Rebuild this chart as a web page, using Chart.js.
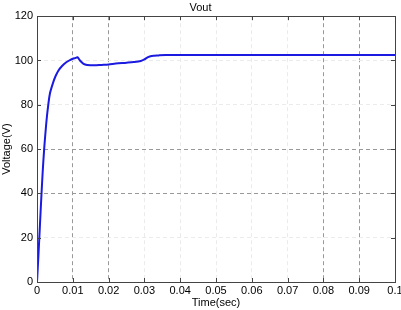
<!DOCTYPE html>
<html>
<head>
<meta charset="utf-8">
<script src="https://cdn.jsdelivr.net/npm/chart.js@4"></script>
<style>
  html, body { margin: 0; padding: 0; background: #fff; }
  #wrap { width: 401px; height: 310px; }
</style>
</head>
<body>
<div id="wrap"><canvas id="c" width="401" height="310"></canvas></div>
<script>
// time (s) and output voltage (V)
const times = [0, 0.0004, 0.0008, 0.0012, 0.0016, 0.002, 0.0025, 0.003, 0.0036, 0.0045,
  0.0052, 0.006, 0.007, 0.008, 0.009, 0.01, 0.0108, 0.0113, 0.012, 0.013, 0.014, 0.016,
  0.018, 0.02, 0.022, 0.025, 0.027, 0.029, 0.030, 0.031, 0.032, 0.034, 0.036, 0.04,
  0.05, 0.06, 0.07, 0.08, 0.09, 0.1];
const volts = [0, 12, 25, 38, 50, 60, 70, 78, 85, 90,
  93, 95.5, 97.5, 99, 100, 100.8, 101.2, 101.5, 100, 98.5, 98, 97.8,
  98, 98.2, 98.6, 99, 99.3, 99.8, 100.5, 101.5, 102, 102.3, 102.5, 102.5,
  102.5, 102.5, 102.5, 102.5, 102.5, 102.5];
const xTicks = [0, 0.01, 0.02, 0.03, 0.04, 0.05, 0.06, 0.07, 0.08, 0.09, 0.1];
const yTicks = [0, 20, 40, 60, 80, 100, 120];
const darkX = [0.01, 0.02, 0.08, 0.09];
const darkY = [40, 60];

const font = { family: 'Liberation Sans, Arial, sans-serif', size: 11, weight: 'normal' };

// frame + inward ticks on all four sides, like MATLAB axes
const framePlugin = {
  id: 'frame',
  afterDatasetsDraw(chart) {
    const { ctx, chartArea: a, scales } = chart;
    ctx.save();
    ctx.strokeStyle = '#444';
    ctx.lineWidth = 1;
    ctx.beginPath();
    xTicks.forEach(v => {
      const x = Math.round(scales.x.getPixelForValue(v)) + 0.5;
      ctx.moveTo(x, a.bottom); ctx.lineTo(x, a.bottom - 4);
      ctx.moveTo(x, a.top); ctx.lineTo(x, a.top + 4);
    });
    yTicks.forEach(v => {
      const y = Math.round(scales.y.getPixelForValue(v)) + 0.5;
      ctx.moveTo(a.left, y); ctx.lineTo(a.left + 4, y);
      ctx.moveTo(a.right, y); ctx.lineTo(a.right - 4, y);
    });
    ctx.stroke();
    ctx.strokeRect(Math.round(a.left) + 0.5, Math.round(a.top) + 0.5,
      Math.round(a.right - a.left), Math.round(a.bottom - a.top));
    ctx.restore();
  }
};

new Chart(document.getElementById('c'), {
  type: 'line',
  data: {
    datasets: [{
      data: times.map((t, i) => ({ x: t, y: volts[i] })),
      borderColor: '#1a1ae0',
      borderWidth: 2,
      pointRadius: 0,
      tension: 0.3,
      fill: false
    }]
  },
  options: {
    responsive: false,
    animation: false,
    layout: { padding: { top: 1, right: 0, left: 0, bottom: 0 } },
    plugins: {
      legend: { display: false },
      tooltip: { enabled: false },
      title: {
        display: true, text: 'Vout', color: '#000', font,
        padding: { top: 0, bottom: 2 }
      }
    },
    scales: {
      x: {
        type: 'linear', min: 0, max: 0.1,
        afterBuildTicks: s => { s.ticks = xTicks.map(v => ({ value: v })); },
        afterFit: s => { s.height = 28; s.paddingRight = 6; },
        ticks: { color: '#000', font, padding: 2, maxRotation: 0,
          callback: v => String(+v.toFixed(2)) },
        grid: {
          drawTicks: false,
          color: c => darkX.some(d => Math.abs(d - c.tick.value) < 1e-9) ? '#999' : '#ebebeb'
        },
        border: { display: false, dash: [4, 3] },
        title: { display: true, text: 'Time(sec)', color: '#000', font, padding: { top: 0, bottom: 0 } }
      },
      y: {
        min: 0, max: 120,
        afterBuildTicks: s => { s.ticks = yTicks.map(v => ({ value: v })); },
        afterFit: s => { s.width = 37; },
        ticks: { color: '#000', font, padding: 4 },
        grid: {
          drawTicks: false,
          color: c => darkY.includes(c.tick.value) ? '#999' : '#ebebeb'
        },
        border: { display: false, dash: [4, 3] },
        title: { display: true, text: 'Voltage(V)', color: '#000', font, padding: { top: 0, bottom: 0 } }
      }
    }
  },
  plugins: [framePlugin]
});
</script>
</body>
</html>
